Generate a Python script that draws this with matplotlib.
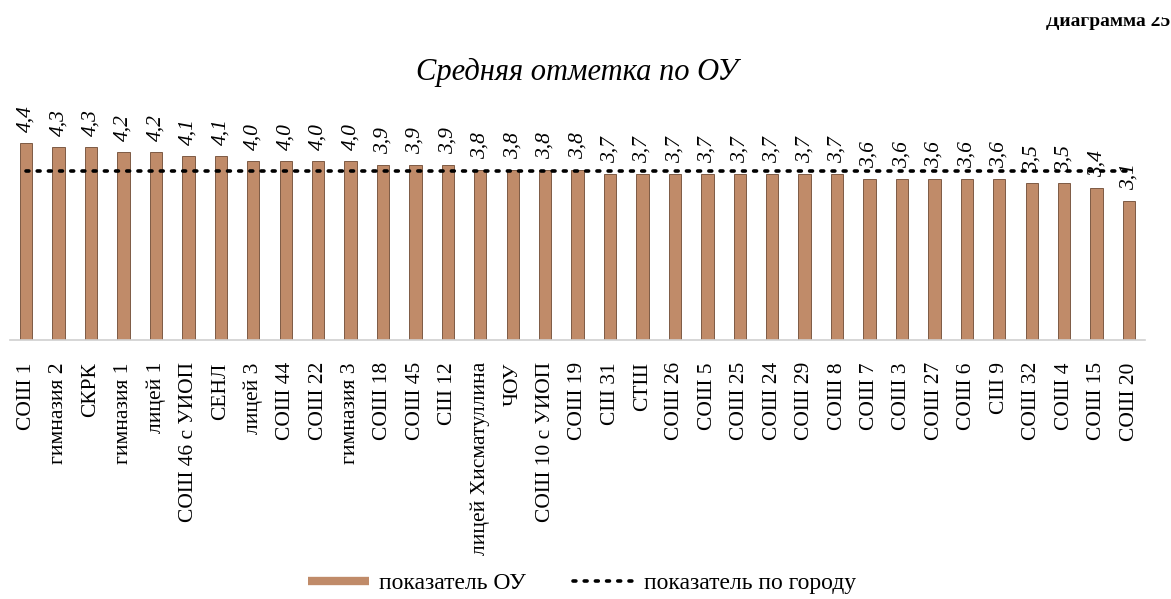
import matplotlib.pyplot as plt
import numpy as np
from matplotlib.lines import Line2D
from matplotlib.patches import Rectangle

plt.rcParams['font.family'] = ['Liberation Serif', 'DejaVu Serif']

# data
schools = ["СОШ 1", "гимназия 2", "СКРК", "гимназия 1", "лицей 1", "СОШ 46 с УИОП",
           "СЕНЛ", "лицей 3", "СОШ 44", "СОШ 22", "гимназия 3", "СОШ 18", "СОШ 45",
           "СШ 12", "лицей Хисматуллина", "ЧОУ", "СОШ 10 с УИОП", "СОШ 19", "СШ 31",
           "СТШ", "СОШ 26", "СОШ 5", "СОШ 25", "СОШ 24", "СОШ 29", "СОШ 8", "СОШ 7",
           "СОШ 3", "СОШ 27", "СОШ 6", "СШ 9", "СОШ 32", "СОШ 4", "СОШ 15", "СОШ 20"]
scores = [4.4, 4.3, 4.3, 4.2, 4.2, 4.1, 4.1, 4.0, 4.0, 4.0, 4.0, 3.9, 3.9, 3.9,
          3.8, 3.8, 3.8, 3.8, 3.7, 3.7, 3.7, 3.7, 3.7, 3.7, 3.7, 3.7, 3.6, 3.6,
          3.6, 3.6, 3.6, 3.5, 3.5, 3.4, 3.1]
city_score = 3.78

bar_color = '#C08B69'

fig = plt.figure(figsize=(11.71, 5.99), dpi=100)
ax = fig.add_axes([0.0085, 0.4324, 0.9695, 0.374])

x = np.arange(len(schools))
ax.bar(x, scores, width=0.38, color=bar_color, edgecolor='#6E4A33', linewidth=0.6)
ax.plot(x, [city_score] * len(x), color='black', lw=2.6,
        linestyle=(0, (0.8, 2.3)), dash_capstyle='round')

for xi, v in zip(x, scores):
    ax.annotate(f"{v:.1f}".replace('.', ','), (xi, v), xytext=(0, 8),
                textcoords='offset points', rotation=90, ha='center', va='bottom',
                fontsize=15.5, fontstyle='italic', annotation_clip=False)

ax.set_xlim(-0.5, len(schools) - 0.5)
ax.set_ylim(0, 5)
ax.set_xticks(x)
ax.set_xticklabels(schools, rotation=90, fontsize=15.5)
ax.tick_params(axis='x', length=0, pad=16)
ax.set_yticks([])
for s in ['top', 'left', 'right']:
    ax.spines[s].set_visible(False)
ax.spines['bottom'].set_color('#D0D0D0')
ax.spines['bottom'].set_linewidth(1.2)

fig.text(0.493, 1 - 72 / 599, "Средняя отметка по ОУ", ha='center', va='center',
         fontsize=22, fontstyle='italic')
# caption cut off at the top edge in the scan
fig.text(0.893, 1 - 26 / 599, "Диаграмма 25", ha='left', va='baseline',
         fontsize=14, fontweight='bold')
fig.patches.append(Rectangle((0.88, 1 - 16 / 599), 0.12, 16 / 599,
                             transform=fig.transFigure, color='white', zorder=10))

handles = [Line2D([], [], color=bar_color, lw=6, solid_capstyle='butt'),
           Line2D([], [], color='black', lw=2.6, linestyle=(0, (0.8, 2.3)),
                  dash_capstyle='round')]
fig.legend(handles, ["показатель ОУ", "показатель по городу"], loc='center',
           bbox_to_anchor=(0.497, 1 - 583 / 599), ncol=2, frameon=False,
           fontsize=17, handlelength=2.6, columnspacing=2.0, handletextpad=0.4)

fig.savefig('out.png', dpi=100)
